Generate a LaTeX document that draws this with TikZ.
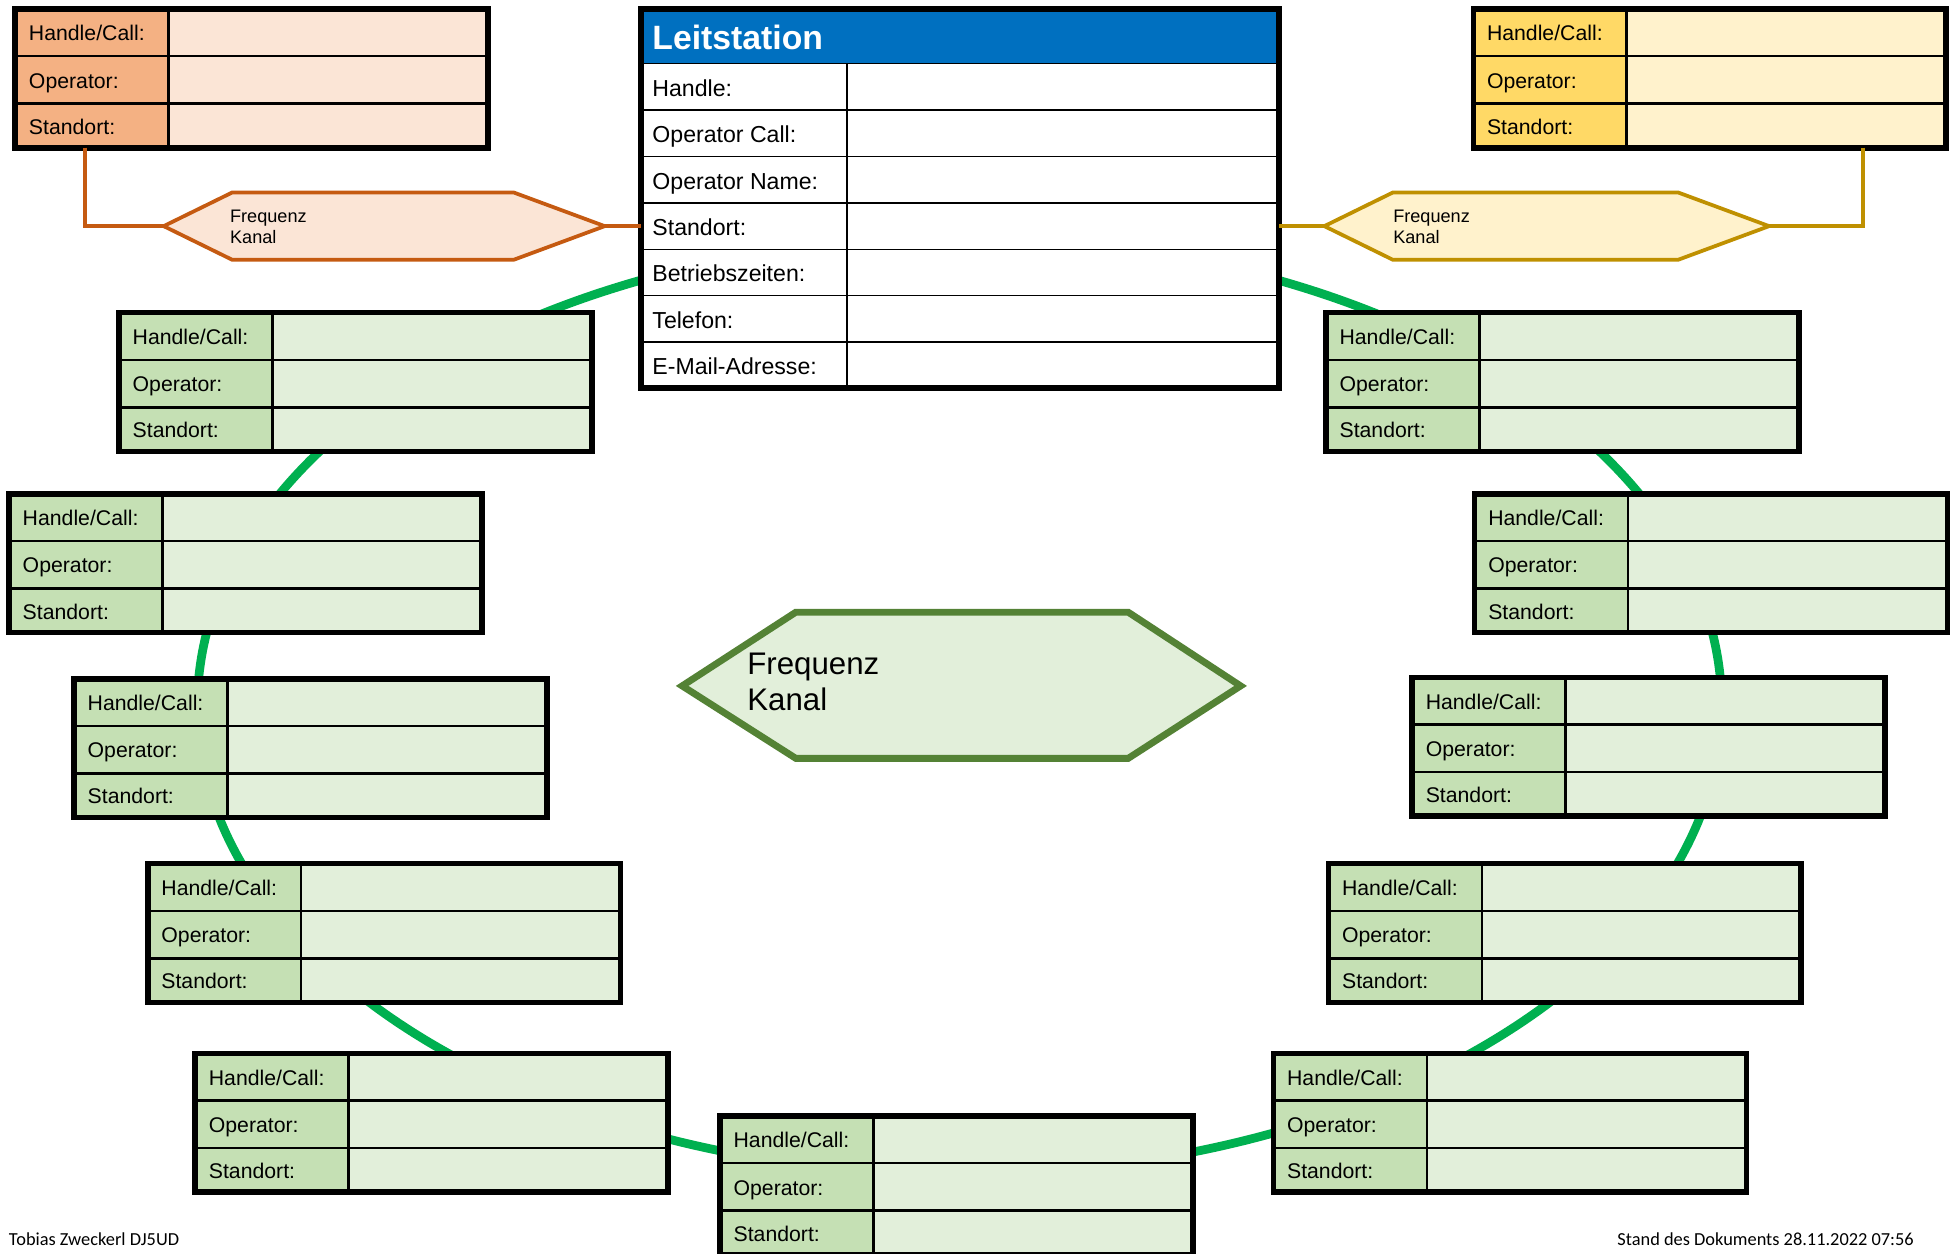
\documentclass[tikz,border=0pt]{standalone}
\usepackage{fontspec}
\setmainfont{Liberation Sans}
\newfontfamily\footfont{Carlito}
\usetikzlibrary{calc}
\definecolor{orlab}{HTML}{F4B183}
\definecolor{orval}{HTML}{FBE5D6}
\definecolor{orline}{HTML}{C55A11}
\definecolor{ylab}{HTML}{FFD966}
\definecolor{yval}{HTML}{FFF2CC}
\definecolor{yline}{HTML}{BF9000}
\definecolor{glab}{HTML}{C5E0B4}
\definecolor{gval}{HTML}{E2EFDA}
\definecolor{ringgreen}{HTML}{00B050}
\definecolor{hexgreen}{HTML}{548235}
\definecolor{lsblue}{HTML}{0070C0}
\tikzset{
  lbl/.style={anchor=base west, inner sep=0pt, font=\fontsize{17}{20}\selectfont},
  lslbl/.style={anchor=base west, inner sep=0pt, font=\fontsize{18.5}{22}\selectfont},
  tableframe/.style={draw=black, line width=4.5pt, inner sep=0pt, outer sep=0pt, anchor=north west},
  cellrule/.style={draw=black, line width=2pt},
  lsrule/.style={draw=black, line width=1.2pt},
  ringline/.style={draw=ringgreen, line width=7pt},
  hexsmall/.style={line width=3pt, line join=miter},
  hextext/.style={anchor=west, inner sep=0pt, align=left, font=\fontsize{14.5}{17}\selectfont},
  foot/.style={inner sep=0pt, font=\footfont\fontsize{14.7}{17}\selectfont},
}
\newcommand\stationtable[5]{%
  \begin{scope}[shift={(#2,-#3)}]
    \fill[#5] (3,-3) rectangle (380,-112.5);
    \fill[#4] (3,-3) rectangle (125,-112.5);
    \draw[cellrule] (3,-40) -- (380,-40) (3,-78) -- (380,-78) (125,-3) -- (125,-112.5);
    \node[lbl] (#1-h) at (13,-27.5) {Handle/Call:};
    \node[lbl] (#1-o) at (13,-65.5) {Operator:};
    \node[lbl] (#1-s) at (13,-102.5) {Standort:};
    \node[tableframe, minimum width=378.5pt, minimum height=111pt] (#1) at (2.25,-2.25) {};
  \end{scope}}
\begin{document}
\begin{tikzpicture}[x=1pt,y=1pt]
\useasboundingbox (0,0) rectangle (1568,-1003);
\clip (0,0) rectangle (1568,-1003);
% green ring
\coordinate (ringc) at (768,-565);
\draw[ringline] (ringc) ellipse [x radius=610, y radius=375];

% central hexagon
\coordinate (ch-w) at (546,-549);
\coordinate (ch-e) at (993,-549);
\draw[line width=5.5pt, draw=hexgreen, fill=gval, line join=miter]
  (ch-w) -- (637,-490) -- (903,-490) -- (ch-e) -- (903,-607) -- (637,-607) -- cycle;
\node[anchor=west, inner sep=0pt, align=left, font=\fontsize{25}{29}\selectfont] (chtext) at (598,-546) {Frequenz\\Kanal};

% Leitstation
\begin{scope}[shift={(511,-5)}]
  \fill[white] (3,-3) rectangle (512,-305);
  \fill[lsblue] (3,-3) rectangle (512,-46);
  \draw[lsrule] (3,-46) -- (512,-46);
  \foreach \k in {1,...,6} {\draw[lsrule] (3,-46-37.14*\k) -- (512,-46-37.14*\k);}
  \draw[lsrule] (167,-46) -- (167,-305);
  \node[anchor=base west, inner sep=0pt, text=white, font=\bfseries\fontsize{27}{30}\selectfont] (lshead) at (11,-35) {Leitstation};
  \node[lslbl] (ls1) at (11,-72) {Handle:};
  \node[lslbl] (ls2) at (11,-109.1) {Operator Call:};
  \node[lslbl] (ls3) at (11,-146.3) {Operator Name:};
  \node[lslbl] (ls4) at (11,-183.4) {Standort:};
  \node[lslbl] (ls5) at (11,-220.6) {Betriebszeiten:};
  \node[lslbl] (ls6) at (11,-257.7) {Telefon:};
  \node[lslbl] (ls7) at (11,-294.9) {E-Mail-Adresse:};
  \node[tableframe, minimum width=510.5pt, minimum height=303.5pt] (lead) at (2.25,-2.25) {};
\end{scope}

% orange (top left)
\stationtable{otab}{10}{5}{orlab}{orval}
\coordinate (oh-w) at (131,-181);
\coordinate (oh-e) at (484,-181);
\draw[hexsmall, draw=orline, fill=orval] (oh-w) -- (186,-154) -- (411,-154) -- (oh-e) -- (411,-208) -- (186,-208) -- cycle;
\node[hextext] (ohtext) at (184,-181.5) {Frequenz\\Kanal};
\coordinate (odrop) at ($(otab.south west)+(56,0)$);
\draw[line width=3pt, draw=orline] (odrop) |- (oh-w);
\draw[line width=3pt, draw=orline] (oh-e) -- (oh-e -| lead.west);

% yellow (top right)
\stationtable{ytab}{1177}{5}{ylab}{yval}
\coordinate (yh-w) at (1060,-181);
\coordinate (yh-e) at (1416,-181);
\draw[hexsmall, draw=yline, fill=yval] (yh-w) -- (1115,-154) -- (1343,-154) -- (yh-e) -- (1343,-208) -- (1115,-208) -- cycle;
\node[hextext] (yhtext) at (1115,-181.5) {Frequenz\\Kanal};
\coordinate (ydrop) at ($(ytab.south west)+(312,0)$);
\draw[line width=3pt, draw=yline] (ydrop) |- (yh-e);
\draw[line width=3pt, draw=yline] (yh-w) -- (yh-w -| lead.east);

% green stations
\stationtable{l1}{93}{248}{glab}{gval}
\stationtable{l2}{5}{393}{glab}{gval}
\stationtable{l3}{57}{541}{glab}{gval}
\stationtable{l4}{116}{689}{glab}{gval}
\stationtable{l5}{154}{841}{glab}{gval}
\stationtable{bt}{574}{891}{glab}{gval}
\stationtable{r1}{1059}{248}{glab}{gval}
\stationtable{r2}{1178}{393}{glab}{gval}
\stationtable{r3}{1128}{540}{glab}{gval}
\stationtable{r4}{1061}{689}{glab}{gval}
\stationtable{r5}{1017}{841}{glab}{gval}

% footer
\node[foot, anchor=base west] (author) at (7,-997) {Tobias Zweckerl DJ5UD};
\node[foot, anchor=base east] (stamp) at (1532,-997) {Stand des Dokuments 28.11.2022 07:56};
\end{tikzpicture}
\end{document}
